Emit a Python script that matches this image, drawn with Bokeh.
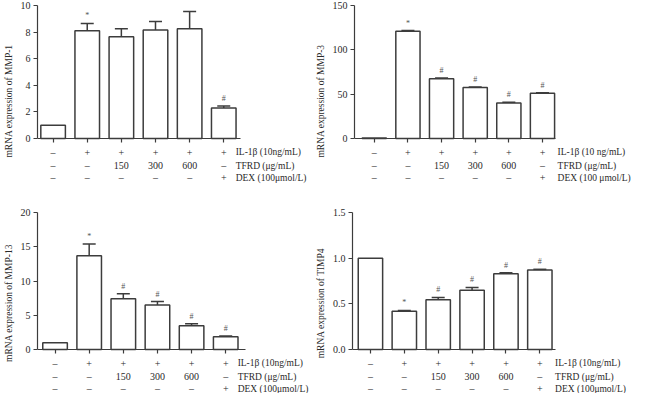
from bokeh.plotting import figure
from bokeh.models import Range1d, LinearAxis, FixedTicker, ColumnDataSource, Whisker, TeeHead
from bokeh.layouts import row, column
from bokeh.embed import file_html
from bokeh.resources import INLINE
from bokeh.core.properties import value

# ---------------- data ----------------
groups = [0, 1, 2, 3, 4, 5]
il_row = ["–", "+", "+", "+", "+", "+"]
tfrd_row = ["–", "–", "150", "300", "600", "–"]
dex_row = ["–", "–", "–", "–", "–", "+"]
row_names_a = ["IL-1β (10ng/mL)", "TFRD (μg/mL)", "DEX (100μmol/L)"]
row_names_b = ["IL-1β (10 ng/mL)", "TFRD (μg/mL)", "DEX (100 μmol/L)"]

mmp1_mean = [1.0, 8.1, 7.65, 8.15, 8.25, 2.3]
mmp1_err = [0.0, 0.55, 0.6, 0.65, 1.3, 0.15]
mmp1_sig = ["", "*", "", "", "", "#"]
mmp1_ticks = [0, 2, 4, 6, 8, 10]

mmp3_mean = [0.5, 121.0, 67.5, 57.5, 40.0, 51.0]
mmp3_err = [0.0, 0.8, 0.7, 0.6, 0.8, 0.6]
mmp3_sig = ["", "*", "#", "#", "#", "#"]
mmp3_ticks = [0, 50, 100, 150]

mmp13_mean = [1.0, 13.7, 7.4, 6.5, 3.45, 1.85]
mmp13_err = [0.0, 1.7, 0.75, 0.5, 0.3, 0.12]
mmp13_sig = ["", "*", "#", "#", "#", "#"]
mmp13_ticks = [0, 5, 10, 15, 20]

timp4_mean = [1.0, 0.42, 0.545, 0.65, 0.83, 0.87]
timp4_err = [0.0, 0.008, 0.025, 0.03, 0.01, 0.008]
timp4_sig = ["", "*", "#", "#", "#", "#"]
timp4_ticks = [0.0, 0.5, 1.0, 1.5]

FONT = value("Liberation Serif")
TXT = "#2a2a2a"
LINE = "#3c3c3c"


def panel(title, mean, err, sig, ticks, names, fmt, width, height,
          mbl, mbt, above, first_off, axis_end, name_x, step):
    frame_w = width - mbl
    below = height - mbt - above
    ymax = ticks[-1]
    ymin = -below / above * ymax
    x0 = -first_off / step
    x1 = x0 + frame_w / step
    p = figure(width=width, height=height, output_backend="svg", toolbar_location=None,
               x_range=Range1d(x0, x1), y_range=Range1d(ymin, ymax),
               x_axis_type=None, y_axis_type=None,
               min_border_left=mbl, min_border_right=0, min_border_top=mbt,
               min_border_bottom=0, outline_line_color=None)
    p.extra_y_ranges = {"px": Range1d(-below, above)}

    yax = LinearAxis(ticker=FixedTicker(ticks=ticks), bounds=(0, ymax),
                     axis_label=title)
    yax.major_label_overrides = {t: fmt(t) for t in ticks}
    yax.axis_line_color = LINE
    yax.axis_line_width = 1.2
    yax.major_tick_line_color = LINE
    yax.major_tick_line_width = 1.2
    yax.major_tick_out = 4
    yax.major_tick_in = 0
    yax.minor_tick_line_color = None
    yax.major_label_text_font = "Liberation Serif"
    yax.major_label_text_font_size = "10px"
    yax.major_label_text_color = TXT
    yax.major_label_standoff = 3
    yax.axis_label_text_font = "Liberation Serif"
    yax.axis_label_text_font_size = "9.5px"
    yax.axis_label_text_font_style = "normal"
    yax.axis_label_text_color = TXT
    yax.axis_label_standoff = 4
    p.add_layout(yax, "left")

    xax = LinearAxis(ticker=FixedTicker(ticks=groups), fixed_location=0,
                     bounds=(x0, axis_end))
    xax.major_label_overrides = {g: "" for g in groups}
    xax.major_label_text_font_size = "0px"
    xax.axis_line_color = LINE
    xax.axis_line_width = 1.2
    xax.major_tick_line_color = LINE
    xax.major_tick_line_width = 1.2
    xax.major_tick_out = 4
    xax.major_tick_in = 0
    xax.minor_tick_line_color = None
    p.add_layout(xax, "below")

    p.vbar(x=groups, top=mean, bottom=0, width=0.72, fill_color="white",
           line_color=LINE, line_width=1.5)

    ex = [g for g, e in zip(groups, err) if e > 0]
    lo = [m for m, e in zip(mean, err) if e > 0]
    hi = [m + e for m, e in zip(mean, err) if e > 0]
    src = ColumnDataSource(dict(x=ex, lower=lo, upper=hi))
    w = Whisker(source=src, base="x", lower="lower", upper="upper", dimension="height",
                line_color=LINE, line_width=1.5, level="overlay",
                upper_head=TeeHead(size=13, line_color=LINE, line_width=1.5),
                lower_head=None)
    p.add_layout(w)

    top = [m + e for m, e in zip(mean, err)]
    p.text(x=groups, y=top, text=sig, y_offset=-3, text_align="center",
           text_baseline="bottom", text_font=FONT, text_font_size="8px",
           text_color="#555555")

    for yy, labels in zip([-13.5, -27, -39], [il_row, tfrd_row, dex_row]):
        p.text(x=groups, y=[yy] * len(groups), text=labels, y_range_name="px",
               text_align="center", text_baseline="middle", text_font=FONT,
               text_font_size="10px", text_color=TXT)
    p.text(x=[name_x] * 3, y=[-13.5, -27, -39], text=names, y_range_name="px",
           text_align="left", text_baseline="middle", text_font=FONT,
           text_font_size="9.5px", text_color=TXT)
    return p


int_fmt = lambda t: "%d" % t
dec_fmt = lambda t: "%.1f" % t

p1 = panel("mRNA expression of MMP-1", mmp1_mean, mmp1_err, mmp1_sig, mmp1_ticks,
           row_names_a, int_fmt, 312, 196, 30, 5, 133, 16, 5.49, 5.35, 35)
p2 = panel("mRNA expression of MMP-3", mmp3_mean, mmp3_err, mmp3_sig, mmp3_ticks,
           row_names_b, int_fmt, 321, 196, 39, 5, 133, 20, 5.4, 5.45, 34)
p3 = panel("mRNA expression of MMP-13", mmp13_mean, mmp13_err, mmp13_sig, mmp13_ticks,
           row_names_a, int_fmt, 312, 197, 30, 16, 137, 18, 5.57, 5.35, 35)
p4 = panel("mRNA expression of TIMP4", timp4_mean, timp4_err, timp4_sig, timp4_ticks,
           row_names_a, dec_fmt, 321, 197, 39, 16, 137, 18, 5.45, 5.45, 34)

layout = column(row(p1, p2), row(p3, p4))
open("out.html", "w").write(file_html(layout, INLINE))
